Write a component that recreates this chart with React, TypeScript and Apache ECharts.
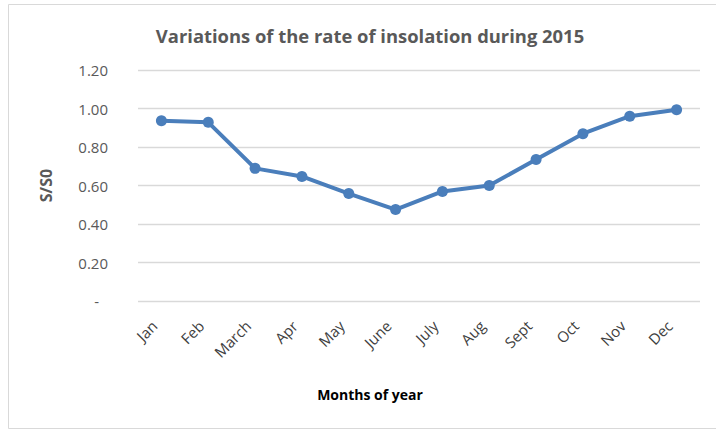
import React, { useEffect, useRef } from "react";
import * as echarts from "echarts";

const months = ["Jan", "Feb", "March", "Apr", "May", "June", "July", "Aug", "Sept", "Oct", "Nov", "Dec"];
const ratio = [0.936, 0.928, 0.689, 0.647, 0.558, 0.475, 0.569, 0.6, 0.735, 0.869, 0.96, 0.994];
const titleText = "Variations of the rate of insolation during 2015";
const yName = "S/S0";
const xName = "Months of year";

const FONT = "Open Sans";

export default function App() {
  const ref = useRef<HTMLDivElement>(null);
  useEffect(() => {
    document.body.style.margin = "0";
    const chart = echarts.init(ref.current!, null, { renderer: "svg" });
    chart.setOption({
      animation: false,
      backgroundColor: "#ffffff",
      title: {
        text: titleText,
        left: 365,
        top: 21,
        textAlign: "center",
        textStyle: { fontFamily: FONT, fontSize: 18.4, fontWeight: "bold", color: "#595959" },
      },
      graphic: [
        {
          type: "rect",
          shape: { x: 8.5, y: 4.5, width: 720, height: 424 },
          style: { fill: "none", stroke: "#d9d9d9", lineWidth: 1 },
          silent: true,
        },
      ],
      grid: { left: 138, right: 16, top: 70, bottom: 129 },
      xAxis: {
        type: "category",
        data: months,
        boundaryGap: true,
        axisLine: { show: false },
        axisTick: { show: false },
        axisLabel: {
          rotate: 45,
          margin: 15,
          padding: [0, 10, 0, 0],
          fontFamily: FONT,
          fontSize: 15,
          color: "#404040",
        },
        name: xName,
        nameLocation: "middle",
        nameGap: 86,
        nameTextStyle: {
          fontFamily: FONT,
          fontSize: 14,
          fontWeight: "bold",
          color: "#000000",
          padding: [0, 98, 0, 0],
        },
      },
      yAxis: {
        type: "value",
        min: 0,
        max: 1.2,
        interval: 0.2,
        axisLine: { show: false },
        axisTick: { show: false },
        splitLine: { lineStyle: { color: "#d9d9d9", width: 1.3 } },
        axisLabel: {
          margin: 30,
          fontFamily: FONT,
          fontSize: 15,
          color: "#595959",
          formatter: (v: number) => (v === 0 ? "{d|-}" : v.toFixed(2)),
          rich: { d: { padding: [0, 9, 0, 0], fontFamily: FONT, fontSize: 15, color: "#595959" } },
        },
        name: yName,
        nameLocation: "middle",
        nameGap: 84,
        nameRotate: 90,
        nameTextStyle: { fontFamily: FONT, fontSize: 16, fontWeight: "bold", color: "#595959" },
      },
      series: [
        {
          type: "line",
          data: ratio,
          symbol: "circle",
          symbolSize: 11,
          itemStyle: { color: "#4a7ebb" },
          lineStyle: { color: "#4a7ebb", width: 4 },
        },
      ],
    });
    return () => chart.dispose();
  }, []);
  return <div ref={ref} style={{ width: 716, height: 430 }} />;
}
